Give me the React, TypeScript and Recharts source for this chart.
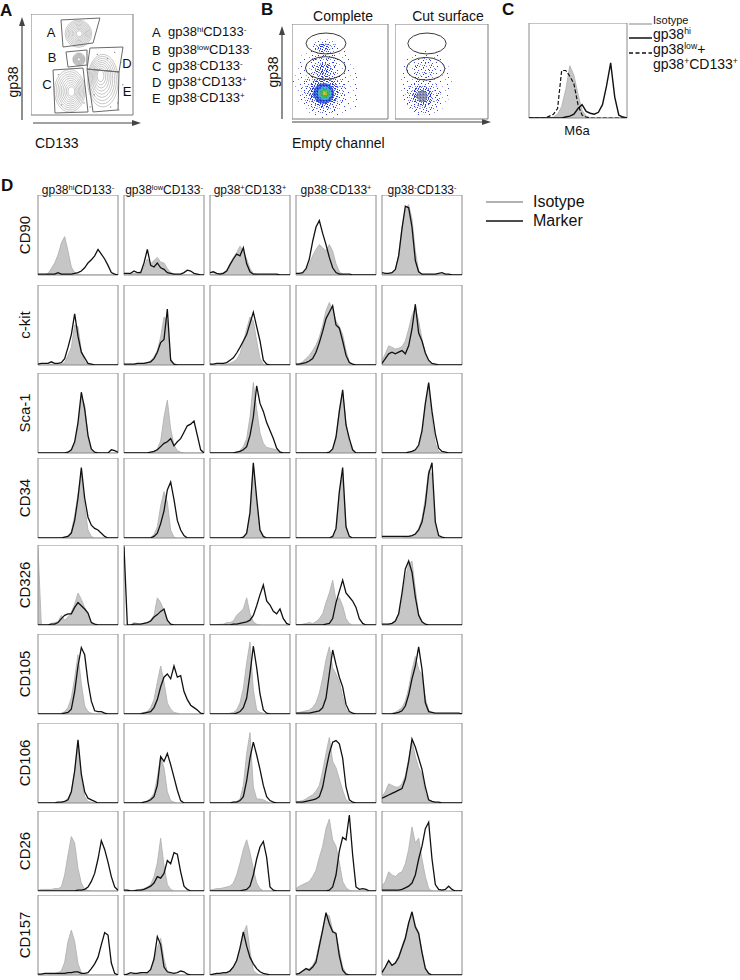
import React from 'react';
import { ComposedChart, Area, Line, XAxis, YAxis, ReferenceArea, ScatterChart, Scatter } from 'recharts';

const FONT = '"Liberation Sans", Arial, Helvetica, sans-serif';

// ---------------- Panel D data ----------------
const BINS = [0, 1, 2, 3, 4, 5, 6, 7, 8, 9, 10, 11, 12, 13, 14, 15, 16, 17, 18, 19, 20, 21, 22, 23, 24];
const POPULATIONS = [
  ['gp38', 'hi', 'CD133', '-'],
  ['gp38', 'low', 'CD133', '-'],
  ['gp38', '+', 'CD133', '+'],
  ['gp38', '-', 'CD133', '+'],
  ['gp38', '-', 'CD133', '-'],
];
const MARKERS = ['CD90', 'c-kit', 'Sca-1', 'CD34', 'CD326', 'CD105', 'CD106', 'CD26', 'CD157'];

const CD90_ISO = [
  [0,0,0,2,8,15,25,40,48,30,10,3,1,0,0,0,0,0,0,0,0,0,0,0,0],
  [0,0,1,2,3,4,10,20,14,18,22,16,15,8,3,1,0,0,0,0,0,0,0,0,0],
  [1,1,1,2,3,6,14,22,28,36,30,20,8,2,1,0,0,0,0,0,0,0,0,0,0],
  [1,1,2,5,14,24,32,38,34,30,38,30,14,4,1,0,0,0,0,0,0,0,0,0,0],
  [1,1,2,3,6,25,60,82,88,70,30,5,1,0,0,0,0,0,0,0,0,0,0,0,0],
];
const CD90_MK = [
  [1,1,1,1,1,1,3,1,1,1,1,2,3,5,9,15,19,24,32,26,20,12,3,1,0],
  [2,2,2,5,3,3,15,32,12,10,15,9,7,3,2,1,1,1,3,6,5,2,1,0,0],
  [3,4,2,1,2,5,13,20,26,24,34,14,4,1,1,1,1,1,1,1,1,0,0,0,0],
  [2,2,3,8,20,42,60,68,52,38,22,9,3,1,1,1,1,0,0,0,0,0,0,0,0],
  [3,2,2,3,7,24,58,86,84,60,18,4,1,1,1,1,1,2,3,1,1,0,0,0,0],
];
const CKIT_ISO = [
  [0,0,0,0,1,1,1,1,3,12,22,50,48,18,4,1,0,0,0,0,0,0,0,0,0],
  [0,0,0,0,1,1,2,3,5,10,18,35,60,55,8,1,0,0,0,0,0,0,0,0,0],
  [0,0,0,0,1,1,2,4,7,14,28,45,60,55,30,8,1,0,0,0,0,0,0,0,0],
  [1,2,4,8,12,18,25,35,50,68,78,70,55,48,38,18,4,1,0,0,0,0,0,0,0],
  [6,14,24,22,20,21,23,30,45,62,72,55,32,15,4,1,0,0,0,0,0,0,0,0,0],
];
const CKIT_MK = [
  [1,2,2,2,4,2,2,3,8,22,38,64,36,16,9,2,1,0,0,0,0,0,0,0,0],
  [1,1,1,1,2,2,2,3,4,8,16,28,32,70,6,1,0,0,0,0,0,0,0,0,0],
  [1,1,2,2,2,3,6,9,15,22,30,38,52,66,48,30,6,1,0,0,0,0,0,0,0],
  [1,1,2,3,5,8,16,28,42,58,66,74,50,46,30,12,3,1,0,0,0,0,0,0,0],
  [2,8,14,16,14,16,18,14,24,45,76,40,30,15,6,2,1,0,0,0,0,0,0,0,0],
];
const SCA1_ISO = [
  [0,0,0,0,0,0,0,0,0,1,3,10,35,70,60,20,3,0,0,0,0,0,0,0,0],
  [0,0,0,0,0,0,0,0,0,2,5,15,45,66,30,10,3,1,0,0,0,0,0,0,0],
  [0,0,0,0,0,0,0,0,1,3,8,18,45,88,55,25,12,7,6,5,4,2,0,0,0],
  [0,0,0,0,0,0,0,0,0,0,1,4,18,55,76,38,12,3,0,0,0,0,0,0,0],
  [0,0,0,0,0,0,0,0,1,1,3,8,22,60,86,42,12,2,0,0,0,0,0,0,0],
];
const SCA1_MK = [
  [0,0,0,0,0,0,0,0,0,1,4,14,38,76,55,22,5,1,0,0,0,0,4,3,1],
  [0,0,0,0,0,0,0,0,1,2,4,8,12,14,18,9,14,18,26,34,36,40,22,4,0],
  [0,0,0,0,0,0,0,0,1,2,4,8,22,45,84,62,52,38,28,18,6,1,0,0,0],
  [0,0,0,0,0,0,0,0,0,0,1,5,20,52,79,35,18,4,0,0,0,0,0,0,0],
  [0,0,0,0,0,0,0,0,1,2,4,10,28,62,88,52,24,6,2,1,0,0,0,0,0],
];
const CD34_ISO = [
  [0,0,0,0,0,0,0,0,1,3,8,28,55,80,40,10,2,0,0,0,0,0,0,0,0],
  [0,0,0,0,0,0,0,0,1,4,14,40,58,45,10,1,0,0,0,0,0,0,0,0,0],
  [0,0,0,0,0,0,0,0,0,0,1,5,30,92,45,8,1,0,0,0,0,0,0,0,0],
  [0,0,0,0,0,0,0,0,0,0,0,2,10,55,80,15,2,0,0,0,0,0,0,0,0],
  [0,0,0,0,0,0,0,1,2,3,5,12,24,50,85,80,15,2,0,0,0,0,0,0,0],
];
const CD34_MK = [
  [0,0,0,0,0,0,0,0,1,2,6,22,50,88,50,26,16,12,10,6,2,0,0,0,0],
  [0,0,0,0,0,0,0,0,0,2,6,18,34,60,70,48,22,10,3,0,0,0,0,0,0],
  [0,0,0,0,0,0,0,0,0,0,1,6,32,94,50,10,2,0,0,0,0,0,0,0,0],
  [0,0,0,0,0,0,0,0,0,0,0,2,12,58,88,14,2,0,0,0,0,0,0,0,0],
  [2,2,2,2,2,2,2,2,2,3,5,10,20,42,80,94,20,3,1,0,0,0,0,0,0],
];
const CD326_ISO = [
  [96,0,0,0,2,3,4,12,6,10,16,26,40,32,22,14,4,1,0,0,0,0,0,0,0],
  [0,0,0,3,2,1,2,3,6,12,34,28,18,6,1,0,0,0,0,0,0,0,0,0,0],
  [0,0,0,1,1,3,3,5,12,16,20,34,14,4,1,0,0,0,0,0,0,0,0,0,0],
  [0,0,1,2,3,2,4,8,14,28,40,56,30,34,24,8,2,0,0,0,0,0,0,0,0],
  [0,0,1,2,4,14,35,58,76,80,45,14,4,1,0,0,0,0,0,0,0,0,0,0,0],
];
const CD326_MK = [
  [0,0,0,0,1,1,3,8,12,14,14,22,28,24,20,15,3,1,0,0,0,0,0,0,0],
  [98,0,0,1,1,1,2,3,5,10,13,17,20,6,1,0,0,0,0,0,0,0,0,0,0],
  [0,0,0,0,0,0,0,1,1,2,3,4,6,12,24,38,50,30,25,17,14,20,8,2,0],
  [0,0,0,0,0,0,0,0,0,1,2,8,28,42,56,40,35,30,22,8,2,0,0,0,0],
  [1,1,1,2,5,14,40,70,80,66,35,12,4,1,0,0,0,0,0,0,0,0,0,0,0],
];
const CD105_ISO = [
  [0,0,0,0,0,0,0,1,3,8,20,45,74,38,10,3,1,0,0,0,0,0,0,0,0],
  [0,0,0,0,0,1,2,3,8,18,40,60,40,14,6,2,1,0,0,0,0,0,0,0,0],
  [0,0,0,0,0,0,1,2,5,14,32,64,90,30,5,2,1,0,0,0,0,0,0,0,0],
  [1,2,3,4,5,8,14,26,45,68,84,58,50,40,22,6,1,0,0,0,0,0,0,0,0],
  [0,0,0,1,2,5,8,16,32,55,72,56,48,20,5,1,0,0,0,0,0,0,0,0,0],
];
const CD105_MK = [
  [0,0,0,0,0,0,0,0,1,2,6,28,60,83,74,40,16,4,3,3,1,0,0,0,0],
  [0,0,0,0,0,0,1,2,3,8,18,34,46,50,44,60,46,48,28,18,11,8,5,1,0],
  [0,0,0,0,0,0,0,0,1,3,8,20,50,85,58,25,5,1,0,0,0,0,0,0,0],
  [1,1,1,1,1,2,3,4,8,20,50,80,62,46,34,12,3,1,0,0,0,0,0,0,0],
  [0,0,0,0,1,2,4,10,24,44,60,84,56,14,3,2,1,1,1,1,1,1,1,1,0],
];
const CD106_ISO = [
  [0,0,0,0,0,0,0,1,2,6,14,40,76,30,8,2,1,0,0,0,0,0,0,0,0],
  [0,0,0,0,0,0,1,3,6,12,32,58,44,14,3,1,0,0,0,0,0,0,0,0,0],
  [0,0,0,0,0,0,0,1,2,5,22,62,88,20,5,5,4,2,0,0,0,0,0,0,0],
  [1,2,3,5,8,10,15,22,40,62,82,52,44,30,16,4,1,0,0,0,0,0,0,0,0],
  [8,14,24,22,20,20,24,34,55,78,58,44,36,12,3,1,0,0,0,0,0,0,0,0,0],
];
const CD106_MK = [
  [0,0,0,0,0,0,1,1,2,4,14,40,79,36,14,6,4,2,0,0,0,0,0,0,0],
  [0,0,0,0,0,0,1,2,4,8,22,58,52,62,48,32,16,3,0,0,0,0,0,0,0],
  [0,0,0,0,0,0,0,1,1,3,8,28,56,76,60,42,22,8,3,1,0,0,0,0,0],
  [1,1,1,2,3,4,5,8,20,42,62,76,78,74,56,20,4,1,0,0,0,0,0,0,0],
  [6,8,10,12,14,16,18,30,52,80,70,56,42,20,4,2,1,1,0,0,0,0,0,0,0],
];
const CD26_ISO = [
  [1,2,2,2,2,3,3,5,20,45,68,60,28,10,2,1,0,0,0,0,0,0,0,0,0],
  [0,0,0,1,1,2,3,5,8,18,35,66,32,8,2,0,0,0,0,0,0,0,0,0,0],
  [1,2,3,3,4,5,6,10,20,35,52,64,48,28,10,3,0,0,0,0,0,0,0,0,0],
  [3,6,8,10,12,18,26,42,56,78,90,64,56,36,12,4,1,0,0,0,0,0,0,0,0],
  [6,12,24,20,18,22,24,34,52,80,60,66,40,18,3,0,0,0,0,0,0,0,0,0,0],
];
const CD26_MK = [
  [0,0,0,0,0,0,0,0,0,0,0,0,1,1,2,5,12,22,40,63,52,36,18,5,1],
  [1,1,0,0,1,1,2,4,6,10,18,16,22,38,34,48,46,24,6,2,0,0,0,0,0],
  [0,0,0,0,0,0,0,0,0,0,1,2,6,20,40,55,62,42,5,1,0,0,0,0,0],
  [0,0,0,0,0,0,0,0,0,0,1,5,20,50,67,64,95,45,5,2,3,2,0,0,0],
  [1,1,1,1,1,1,2,4,6,10,20,40,56,78,86,40,8,2,1,2,6,2,0,0,0],
];
const CD157_ISO = [
  [0,0,0,0,1,2,3,5,16,42,56,42,14,3,1,0,0,0,0,0,0,0,0,0,0],
  [0,0,0,1,2,2,1,2,6,18,34,46,20,4,1,0,0,0,0,0,0,0,0,0,0],
  [0,0,1,1,2,3,6,10,18,34,52,62,30,6,2,0,0,0,0,0,0,0,0,0,0],
  [1,2,6,6,8,12,20,40,58,76,74,56,52,30,10,2,0,0,0,0,0,0,0,0,0],
  [4,10,18,12,16,24,36,48,66,76,62,54,30,10,2,0,0,0,0,0,0,0,0,0,0],
];
const CD157_MK = [
  [1,1,2,2,2,2,2,2,2,3,3,4,4,2,2,3,8,14,22,38,53,50,15,2,0],
  [0,1,3,2,2,3,3,3,7,20,48,38,10,4,3,2,3,5,4,1,0,0,0,0,0],
  [0,1,2,2,3,3,5,10,18,34,54,36,22,14,8,4,2,1,0,0,0,0,0,0,0],
  [1,2,5,8,6,10,16,36,56,78,64,54,52,24,6,1,0,0,0,0,0,0,0,0,0],
  [3,10,18,12,15,22,34,46,65,79,60,52,28,8,2,0,0,0,0,0,0,0,0,0,0],
];
const ISO_ROWS = [CD90_ISO, CKIT_ISO, SCA1_ISO, CD34_ISO, CD326_ISO, CD105_ISO, CD106_ISO, CD26_ISO, CD157_ISO];
const MK_ROWS = [CD90_MK, CKIT_MK, SCA1_MK, CD34_MK, CD326_MK, CD105_MK, CD106_MK, CD26_MK, CD157_MK];

const HIST_X_TICKS = [0, 2, 4, 6, 8, 10, 12, 14, 16, 18, 20, 22, 24];
const HIST_Y_TICKS = [0, 20, 40, 60, 80, 100];

// ---------------- Panel C data ----------------
const C_ISO = [0,0,0,0,0,0,1,4,12,30,55,45,25,8,2,0,0,0,0,0,0,0,0,0,0];
const C_HI = [0,0,0,0,0,0,0,0,0,1,2,4,10,14,7,5,4,6,14,34,58,22,3,1,0];
const C_LOW = [0,0,0,0,0,2,4,10,50,50,44,36,14,3,1,0,0,0,0,0,0,0,0,0,0];

// ---------------- Panel A data ----------------
const POP_A = [
  { x: 46.5, y: 80.5, rx: 13, ry: 13.5, ox: 1, oy: 0 },
  { x: 47, y: 55, rx: 6, ry: 6.5, ox: 0, oy: 0 },
  { x: 38, y: 24, rx: 15, ry: 21, ox: 2, oy: -1 },
  { x: 70.5, y: 34, rx: 15, ry: 26, ox: -3, oy: 6 },
];
const OUTLIERS_A = [
  { x: 62, y: 20 }, { x: 85, y: 12 }, { x: 90, y: 30 }, { x: 78, y: 8 }, { x: 88, y: 52 },
  { x: 30, y: 10 }, { x: 58, y: 8 }, { x: 75, y: 56 }, { x: 93, y: 20 }, { x: 65, y: 60 },
  { x: 82, y: 62 }, { x: 27, y: 40 }, { x: 52, y: 12 }, { x: 86, y: 5 },
];
const GATE_A = [{ x: 29.4, y: 94.1 }, { x: 67.6, y: 96 }, { x: 60.8, y: 71.3 }, { x: 31.4, y: 67.3 }, { x: 29.4, y: 94.1 }];
const GATE_B = [{ x: 34.3, y: 62.4 }, { x: 54.9, y: 64.4 }, { x: 54.9, y: 49.5 }, { x: 36.3, y: 47.5 }, { x: 34.3, y: 62.4 }];
const GATE_C = [{ x: 21.6, y: 44.6 }, { x: 51, y: 46.5 }, { x: 55.9, y: 3 }, { x: 23.5, y: 2 }, { x: 21.6, y: 44.6 }];
const GATE_D = [{ x: 57.8, y: 66.3 }, { x: 90.2, y: 67.3 }, { x: 86.3, y: 42.6 }, { x: 54.9, y: 45.5 }, { x: 57.8, y: 66.3 }];
const GATE_E = [{ x: 54.9, y: 45.5 }, { x: 86.3, y: 42.6 }, { x: 85.3, y: 5 }, { x: 60.8, y: 3 }, { x: 54.9, y: 45.5 }];
const GATE_LABELS = ['A', 'B', 'C', 'D', 'E'];

// ---------------- Panel B data ----------------
const DENS_COMPLETE = [
  { x: 35, y: 40, rx: 34, ry: 40, lv: 0 },
  { x: 40, y: 20, rx: 30, ry: 18, lv: 0 },
  { x: 33, y: 30, rx: 23, ry: 25, lv: 1 },
  { x: 33, y: 58, rx: 14, ry: 15, lv: 1 },
  { x: 34, y: 76, rx: 12, ry: 8, lv: 1 },
  { x: 33, y: 28, rx: 16, ry: 16, lv: 2 },
  { x: 33, y: 51, rx: 9, ry: 8, lv: 2 },
  { x: 33, y: 75, rx: 7, ry: 4.5, lv: 2 },
  { x: 33, y: 27, rx: 11, ry: 11, lv: 3 },
  { x: 34, y: 27, rx: 7, ry: 7, lv: 4 },
  { x: 34, y: 27, rx: 4.5, ry: 4.5, lv: 5 },
  { x: 34, y: 27, rx: 2, ry: 2, lv: 6 },
];
const DENS_CUT = [
  { x: 33, y: 38, rx: 28, ry: 36, lv: 0 },
  { x: 30, y: 24, rx: 19, ry: 19, lv: 1 },
  { x: 32, y: 52, rx: 12, ry: 12, lv: 1 },
  { x: 29, y: 24, rx: 11, ry: 11, lv: 2 },
  { x: 29, y: 24, rx: 6, ry: 6, lv: 7 },
];
const GATES_COMPLETE = [{ x: 35.4, y: 79.5, rx: 20.8, ry: 11 }, { x: 35, y: 53.7, rx: 21, ry: 11.9 }];
const GATES_CUT = [{ x: 34.4, y: 79.5, rx: 20.6, ry: 11 }, { x: 33, y: 52.9, rx: 20.6, ry: 11.9 }];
const FLOW_TICKS = [8, 20, 32, 44, 56, 68, 80, 92];

// ---------------- layout ----------------
const COL_LEFT = [38, 124, 210, 296, 382];
const ROW_TOP = [195, 285, 373, 458, 545, 634, 723, 811, 895];
const BOX = 80;

function Sup({ children }: any) {
  return <span style={{ fontSize: '0.62em', position: 'relative', top: '-0.55em' }}>{children}</span>;
}

function T({ x, y, size, children, anchor = 'start', bold = false, rotate = false }: any) {
  const tx = anchor === 'middle' ? '-50%' : anchor === 'end' ? '-100%' : '0';
  return (
    <div
      style={{
        position: 'absolute', left: x, top: y, fontSize: size, lineHeight: 1, whiteSpace: 'nowrap',
        fontWeight: bold ? 700 : 400,
        transform: rotate ? 'translate(-50%,-50%) rotate(-90deg)' : `translate(${tx},-50%)`,
      }}
    >
      {children}
    </div>
  );
}

function Hist({ iso, mk, left, top }: any) {
  const data = BINS.map((b, i) => ({ b, iso: iso[i], mk: mk[i] }));
  return (
    <div style={{ position: 'absolute', left: left - 3, top }}>
      <ComposedChart width={BOX + 4} height={BOX + 3} data={data} margin={{ top: 0, right: 1, bottom: 0, left: 0 }}>
        <XAxis dataKey="b" type="number" domain={[0, 24]} ticks={HIST_X_TICKS} tick={false} tickSize={2} height={3}
          axisLine={false} tickLine={{ stroke: '#888' }} allowDataOverflow />
        <YAxis type="number" domain={[0, 100]} ticks={HIST_Y_TICKS} tick={false} tickSize={2} width={3}
          axisLine={false} tickLine={{ stroke: '#888' }} allowDataOverflow />
        <Area dataKey="iso" type="linear" fill="#c6c6c6" fillOpacity={1} stroke="#adadad" strokeWidth={0.8}
          isAnimationActive={false} dot={false} activeDot={false} />
        <Line dataKey="mk" type="linear" stroke="#111" strokeWidth={1.3} dot={false} activeDot={false} isAnimationActive={false} />
        <ReferenceArea x1={0} x2={24} y1={0} y2={100} fill="none" stroke="#8a8a8a" strokeWidth={1} ifOverflow="visible" />
      </ComposedChart>
    </div>
  );
}

// ---------------- panel A ----------------
const A_W = 102, A_H = 101;
function ContourShape(props: any) {
  const { cx, cy, payload } = props;
  const kx = A_W / 100, ky = A_H / 100;
  const rings = [];
  const N = 9;
  for (let k = 0; k < N; k++) {
    const f = 0.22 + 0.78 * (k / (N - 1));
    rings.push(
      <ellipse key={k} cx={cx + payload.ox * kx * (1 - f)} cy={cy - payload.oy * ky * (1 - f)}
        rx={payload.rx * kx * f} ry={payload.ry * ky * f} fill="none" stroke="#9a9a9a" strokeWidth={0.55} />
    );
  }
  return <g>{rings}</g>;
}
const NoShape = () => <g />;
const Dot = (p: any) => <circle cx={p.cx} cy={p.cy} r={0.7} fill="#888" />;

function PanelA() {
  const gates = [GATE_A, GATE_B, GATE_C, GATE_D, GATE_E];
  return (
    <div style={{ position: 'absolute', left: 31, top: 14 }}>
      <ScatterChart width={A_W + 1} height={A_H + 1} margin={{ top: 0, right: 1, bottom: 1, left: 0 }}>
        <XAxis dataKey="x" type="number" domain={[0, 100]} ticks={FLOW_TICKS} tick={false} tickSize={3} mirror height={0}
          axisLine={false} tickLine={{ stroke: '#777' }} allowDataOverflow />
        <YAxis dataKey="y" type="number" domain={[0, 100]} ticks={FLOW_TICKS} tick={false} tickSize={3} mirror width={0}
          axisLine={false} tickLine={{ stroke: '#777' }} allowDataOverflow />
        <ReferenceArea x1={0} x2={100} y1={0} y2={100} fill="none" stroke="#7a7a7a" strokeWidth={1} ifOverflow="visible" />
        <Scatter data={OUTLIERS_A} shape={Dot} isAnimationActive={false} />
        <Scatter data={POP_A} shape={(p: any) => <ContourShape {...p} />} isAnimationActive={false} />
        {gates.map((g, i) => (
          <Scatter key={GATE_LABELS[i]} data={g} line={{ stroke: '#6a6a6a', strokeWidth: 1 }} lineType="joint"
            shape={NoShape} isAnimationActive={false} />
        ))}
      </ScatterChart>
    </div>
  );
}

// ---------------- panel B ----------------
const LEVEL_FILL = ['url(#pSparse)', 'url(#pLow)', 'url(#pMid)', 'url(#pDense)', 'url(#pCyan)', 'url(#pGreen)', 'url(#pYellow)', 'url(#pGray)'];
function BlobShape(props: any) {
  const { cx, cy, payload, kx, ky } = props;
  return <ellipse cx={cx} cy={cy} rx={payload.rx * kx} ry={payload.ry * ky} fill={LEVEL_FILL[payload.lv]} />;
}
function GateEllipse(props: any) {
  const { cx, cy, payload, kx, ky } = props;
  return <ellipse cx={cx} cy={cy} rx={payload.rx * kx} ry={payload.ry * ky} fill="none" stroke="#222" strokeWidth={0.9} />;
}

function FlowPlot({ left, width, dens, gates, leftTicks }: any) {
  const H = 95;
  const kx = width / 100, ky = H / 100;
  return (
    <div style={{ position: 'absolute', left, top: 24 }}>
      <ScatterChart width={width + 1} height={H + 1} margin={{ top: 0, right: 1, bottom: 1, left: 0 }}>
        <XAxis dataKey="x" type="number" domain={[0, 100]} ticks={FLOW_TICKS} tick={false} tickSize={2} mirror height={0}
          axisLine={false} tickLine={{ stroke: '#777' }} allowDataOverflow />
        <YAxis dataKey="y" type="number" domain={[0, 100]} ticks={leftTicks ? FLOW_TICKS : []} tick={false} tickSize={3} mirror width={0}
          axisLine={false} tickLine={{ stroke: '#777' }} allowDataOverflow />
        <Scatter data={dens} shape={(p: any) => <BlobShape {...p} kx={kx} ky={ky} />} isAnimationActive={false} />
        <Scatter data={gates} shape={(p: any) => <GateEllipse {...p} kx={kx} ky={ky} />} isAnimationActive={false} />
        <ReferenceArea x1={0} x2={100} y1={0} y2={100} fill="none" stroke="#7a7a7a" strokeWidth={1} ifOverflow="visible" />
      </ScatterChart>
    </div>
  );
}

// ---------------- panel C ----------------
function PanelC() {
  const data = BINS.map((b, i) => ({ b, iso: C_ISO[i], hi: C_HI[i], low: C_LOW[i] }));
  return (
    <div style={{ position: 'absolute', left: 526, top: 23 }}>
      <ComposedChart width={98 + 4} height={95 + 3} data={data} margin={{ top: 0, right: 1, bottom: 0, left: 0 }}>
        <XAxis dataKey="b" type="number" domain={[0, 24]} ticks={HIST_X_TICKS} tick={false} tickSize={2} height={3}
          axisLine={false} tickLine={{ stroke: '#888' }} allowDataOverflow />
        <YAxis type="number" domain={[0, 100]} ticks={HIST_Y_TICKS} tick={false} tickSize={2} width={3}
          axisLine={false} tickLine={{ stroke: '#888' }} allowDataOverflow />
        <Area dataKey="iso" type="linear" fill="#c6c6c6" fillOpacity={1} stroke="#adadad" strokeWidth={0.8}
          isAnimationActive={false} dot={false} activeDot={false} />
        <Line dataKey="low" type="linear" stroke="#111" strokeWidth={1.2} strokeDasharray="4 2" dot={false} activeDot={false} isAnimationActive={false} />
        <Line dataKey="hi" type="linear" stroke="#111" strokeWidth={1.4} dot={false} activeDot={false} isAnimationActive={false} />
        <ReferenceArea x1={0} x2={24} y1={0} y2={100} fill="none" stroke="#8a8a8a" strokeWidth={1} ifOverflow="visible" />
      </ComposedChart>
    </div>
  );
}

function Px({ x, y, c }: any) {
  return <rect x={x} y={y} width={1} height={1} fill={c} />;
}

function Decor() {
  return (
    <svg width={740} height={240} style={{ position: 'absolute', left: 0, top: 0 }}>
      <defs>
        <pattern id="pSparse" width="11" height="11" patternUnits="userSpaceOnUse">
          <Px x={1} y={2} c="#2a3ed4" />
          <Px x={6} y={0} c="#8c94e8" />
          <Px x={8} y={5} c="#3446d6" />
          <Px x={3} y={7} c="#a0a6ec" />
          <Px x={9} y={9} c="#2a3ed4" />
        </pattern>
        <pattern id="pLow" width="7" height="7" patternUnits="userSpaceOnUse">
          <Px x={0} y={1} c="#2436cf" />
          <Px x={3} y={0} c="#7680e4" />
          <Px x={5} y={3} c="#2436cf" />
          <Px x={2} y={4} c="#4858da" />
          <Px x={6} y={6} c="#8a92e6" />
          <Px x={1} y={6} c="#2e40d2" />
        </pattern>
        <pattern id="pMid" width="5" height="5" patternUnits="userSpaceOnUse">
          <Px x={0} y={0} c="#1e30c8" />
          <Px x={2} y={1} c="#3a4cd8" />
          <Px x={4} y={2} c="#2436cf" />
          <Px x={1} y={3} c="#4c5ee0" />
          <Px x={3} y={4} c="#2a3cd0" />
          <Px x={3} y={0} c="#7882e4" />
          <Px x={0} y={2} c="#2a3cd0" />
        </pattern>
        <pattern id="pDense" width="3" height="3" patternUnits="userSpaceOnUse">
          <rect x="0" y="0" width="3" height="3" fill="#3550da" />
          <Px x={1} y={1} c="#1a28b4" />
          <Px x={0} y={2} c="#48a4e0" />
          <Px x={2} y={0} c="#6a78e4" />
        </pattern>
        <pattern id="pCyan" width="3" height="3" patternUnits="userSpaceOnUse">
          <rect x="0" y="0" width="3" height="3" fill="#3ab4c8" />
          <Px x={1} y={1} c="#2f6ee0" />
          <Px x={2} y={0} c="#4cc890" />
        </pattern>
        <pattern id="pGreen" width="3" height="3" patternUnits="userSpaceOnUse">
          <rect x="0" y="0" width="3" height="3" fill="#4cb24a" />
          <Px x={1} y={1} c="#a0c83a" />
          <Px x={2} y={2} c="#30a090" />
        </pattern>
        <pattern id="pYellow" width="2" height="2" patternUnits="userSpaceOnUse">
          <rect x="0" y="0" width="2" height="2" fill="#d0c234" />
          <Px x={1} y={1} c="#e8902c" />
        </pattern>
        <pattern id="pGray" width="3" height="3" patternUnits="userSpaceOnUse">
          <rect x="0" y="0" width="3" height="3" fill="#8a90ac" />
          <Px x={1} y={1} c="#4a5498" />
          <Px x={2} y={0} c="#b0b4c6" />
        </pattern>
      </defs>
      {/* axis arrows panel A */}
      <line x1={22} y1={120} x2={22} y2={24} stroke="#444" strokeWidth={1.2} />
      <polygon points="22,17 19,26 25,26" fill="#444" />
      <line x1={33} y1={123} x2={134} y2={123} stroke="#444" strokeWidth={1.2} />
      <polygon points="141,123 132,120 132,126" fill="#444" />
      {/* axis arrows panel B */}
      <line x1={282} y1={119} x2={282} y2={33} stroke="#444" strokeWidth={1.2} />
      <polygon points="282,26 279,35 285,35" fill="#444" />
      <line x1={292} y1={122} x2={484} y2={122} stroke="#444" strokeWidth={1.2} />
      <polygon points="491,122 482,119 482,125" fill="#444" />
      {/* panel C legend */}
      <line x1={629} y1={24} x2={652} y2={24} stroke="#999" strokeWidth={1.2} />
      <line x1={629} y1={38} x2={652} y2={38} stroke="#111" strokeWidth={1.5} />
      <line x1={629} y1={53} x2={652} y2={53} stroke="#111" strokeWidth={1.5} strokeDasharray="4 2.5" />
      {/* panel D legend */}
      <line x1={486} y1={202} x2={523} y2={202} stroke="#999" strokeWidth={1.5} />
      <line x1={486} y1={221} x2={523} y2={221} stroke="#111" strokeWidth={1.5} />
    </svg>
  );
}

function Pop({ p }: any) {
  return (<>{p[0]}<Sup>{p[1]}</Sup>{p[2]}<Sup>{p[3]}</Sup></>);
}

export default function App() {
  const legendA = [POPULATIONS[0], POPULATIONS[1], POPULATIONS[4], POPULATIONS[2], POPULATIONS[3]];
  const legendAY = [32, 50, 66, 82, 98];
  const gateLabelPos = [[51, 32], [52, 57], [47, 84], [127, 63], [127, 91]];
  return (
    <div style={{ position: 'absolute', left: 0, top: 0, width: 740, height: 980, background: '#fff', fontFamily: FONT, color: '#111', overflow: 'hidden' }}>
      <Decor />
      <T x={0} y={10} size={17} bold>A</T>
      <T x={261} y={9} size={17} bold>B</T>
      <T x={502} y={9} size={17} bold>C</T>
      <T x={1} y={185} size={17} bold>D</T>

      <PanelA />
      {GATE_LABELS.map((l, i) => (
        <T key={l} x={gateLabelPos[i][0]} y={gateLabelPos[i][1]} size={13} anchor="middle">{l}</T>
      ))}
      <T x={13} y={82} size={14} rotate>gp38</T>
      <T x={35} y={143} size={14}>CD133</T>
      {legendA.map((p, i) => (
        <React.Fragment key={i}>
          <T x={152} y={legendAY[i]} size={13}>{GATE_LABELS[i]}</T>
          <T x={168} y={legendAY[i]} size={13}><Pop p={p} /></T>
        </React.Fragment>
      ))}

      <FlowPlot left={292} width={96} dens={DENS_COMPLETE} gates={GATES_COMPLETE} leftTicks />
      <FlowPlot left={395} width={93} dens={DENS_CUT} gates={GATES_CUT} leftTicks={false} />
      <T x={343} y={16} size={14} anchor="middle">Complete</T>
      <T x={448} y={16} size={14} anchor="middle">Cut surface</T>
      <T x={273} y={72} size={14} rotate>gp38</T>
      <T x={292} y={143} size={14}>Empty channel</T>

      <PanelC />
      <T x={577} y={130} size={13} anchor="middle">M6a</T>
      <T x={653} y={20} size={11}>Isotype</T>
      <T x={653} y={34} size={14}>gp38<Sup>hi</Sup></T>
      <T x={653} y={49} size={14}>gp38<Sup>low</Sup>+</T>
      <T x={653} y={64} size={14}>gp38<Sup>+</Sup>CD133<Sup>+</Sup></T>

      {POPULATIONS.map((p, c) => (
        <T key={c} x={COL_LEFT[c] + BOX / 2} y={190} size={12} anchor="middle"><Pop p={p} /></T>
      ))}
      {MARKERS.map((m, r) => (
        <T key={m} x={24} y={ROW_TOP[r] + BOX / 2} size={15} rotate>{m}</T>
      ))}
      {MARKERS.map((m, r) =>
        COL_LEFT.map((cl, c) => (
          <Hist key={m + c} iso={ISO_ROWS[r][c]} mk={MK_ROWS[r][c]} left={cl} top={ROW_TOP[r]} />
        ))
      )}
      <T x={533} y={202} size={16}>Isotype</T>
      <T x={533} y={221} size={16}>Marker</T>
    </div>
  );
}
